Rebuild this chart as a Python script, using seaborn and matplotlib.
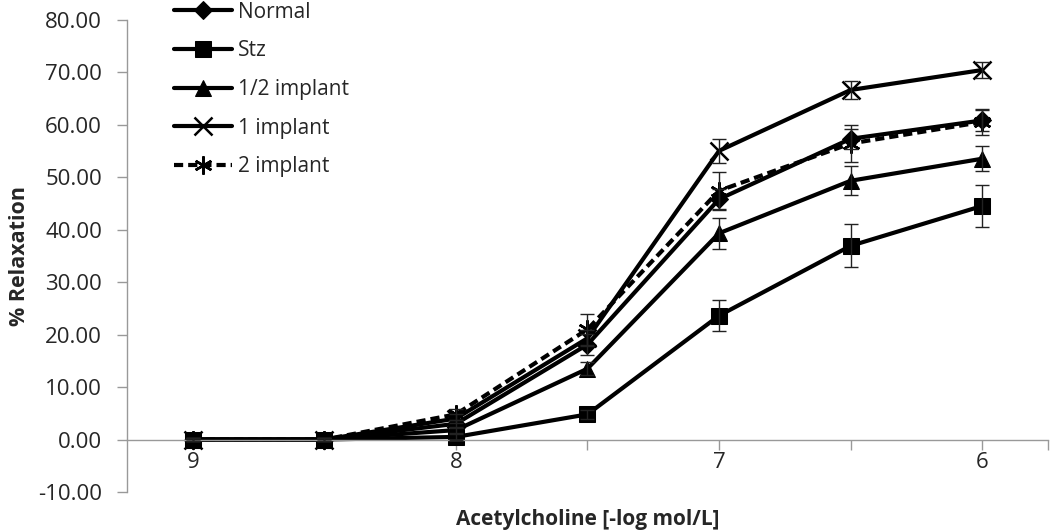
import pandas as pd
import matplotlib
matplotlib.use('Agg')
import matplotlib.pyplot as plt
import seaborn as sns

# dose (-log mol/L) and mean % relaxation per group, with SEM
dose = [9, 8.5, 8, 7.5, 7, 6.5, 6]
groups = ['Normal', 'Stz', '1/2 implant', '1 implant', '2 implant']

normal = [0, 0, 3.0, 18.1, 45.8, 57.3, 60.8]
stz = [0, 0, 0.5, 4.8, 23.6, 36.9, 44.5]
half_implant = [0, 0, 1.8, 13.5, 39.3, 49.3, 53.5]
one_implant = [0, 0, 4.0, 19.3, 55.0, 66.6, 70.4]
two_implant = [0, 0, 4.8, 21.0, 47.4, 56.4, 60.5]

normal_err = [0.3, 0.3, 0.8, 2.0, 2.0, 1.9, 2.0]
stz_err = [0.3, 0.3, 0.5, 0.8, 3.0, 4.1, 4.0]
half_err = [0.3, 0.3, 0.6, 1.2, 3.0, 2.8, 2.4]
one_err = [0.3, 0.3, 0.8, 1.5, 2.3, 1.7, 1.5]
two_err = [0.3, 0.3, 1.0, 3.0, 3.5, 3.5, 2.5]

means = [normal, stz, half_implant, one_implant, two_implant]
errs = [normal_err, stz_err, half_err, one_err, two_err]

rows = []
for g, m, e in zip(groups, means, errs):
    for d, v, s in zip(dose, m, e):
        rows.append({'dose': d, 'relax': v, 'sem': s, 'group': g})
df = pd.DataFrame(rows)

sns.set_style('white')
plt.rcParams['font.family'] = ['Open Sans', 'DejaVu Sans']

fig = plt.figure(figsize=(10.5, 5.31), dpi=100)
ax = fig.add_axes([0.121, 0.0734, 0.877, 0.8896])

styles = {
    'Normal': dict(marker='D', markersize=9, linestyle='-'),
    'Stz': dict(marker='s', markersize=12, linestyle='-'),
    '1/2 implant': dict(marker='^', markersize=12, linestyle='-'),
    '1 implant': dict(marker='x', markersize=13, markeredgewidth=1.8, linestyle='-'),
    '2 implant': dict(marker=(6, 2, 0), markersize=13, markeredgewidth=1.8, linestyle=(0, (2.2, 1.2))),
}

for g in groups:
    sub = df[df['group'] == g]
    sns.lineplot(data=sub, x='dose', y='relax', color='black', linewidth=3,
                 markeredgecolor='black', label=g, ax=ax, **styles[g])

for g, m, e in zip(groups, means, errs):
    ax.errorbar(dose, m, yerr=e, fmt='none', ecolor='#222222',
                elinewidth=1, capsize=5, capthick=1, zorder=5)

ax.set_xlim(9.25, 5.75)
ax.set_ylim(-10, 80)
ax.set_yticks(range(-10, 81, 10))
ax.set_yticklabels([f'{v:.2f}' for v in range(-10, 81, 10)])
ax.set_xticks(dose + [5.75])
ax.set_xticklabels(['9', '', '8', '', '7', '', '6', ''])

for s in ['top', 'right']:
    ax.spines[s].set_visible(False)
ax.spines['bottom'].set_position(('data', 0))
ax.spines['bottom'].set_color('#999999')
ax.spines['left'].set_color('#999999')
ax.spines['bottom'].set_linewidth(1)
ax.spines['left'].set_linewidth(1)

ax.tick_params(axis='y', direction='out', length=7, color='#999999', width=1,
               pad=11, labelsize=16, left=True)
ax.tick_params(axis='x', direction='out', length=7, color='#999999', width=1,
               pad=2, labelsize=16, bottom=True)

ax.set_xlabel('Acetylcholine [-log mol/L]', fontsize=15, fontweight='bold', labelpad=0)
ax.xaxis.set_label_coords(0.5, -0.035)
ax.set_ylabel('% Relaxation', fontsize=15.5, fontweight='bold', labelpad=6)

handles, labels = ax.get_legend_handles_labels()
leg = ax.legend(handles, labels, loc='upper left', bbox_to_anchor=(0.166, 0.997),
                bbox_transform=fig.transFigure, frameon=False, fontsize=15,
                handlelength=2.75, handletextpad=0.3, labelspacing=0.85,
                borderpad=0, borderaxespad=0)

fig.savefig('out.png', dpi=100)
